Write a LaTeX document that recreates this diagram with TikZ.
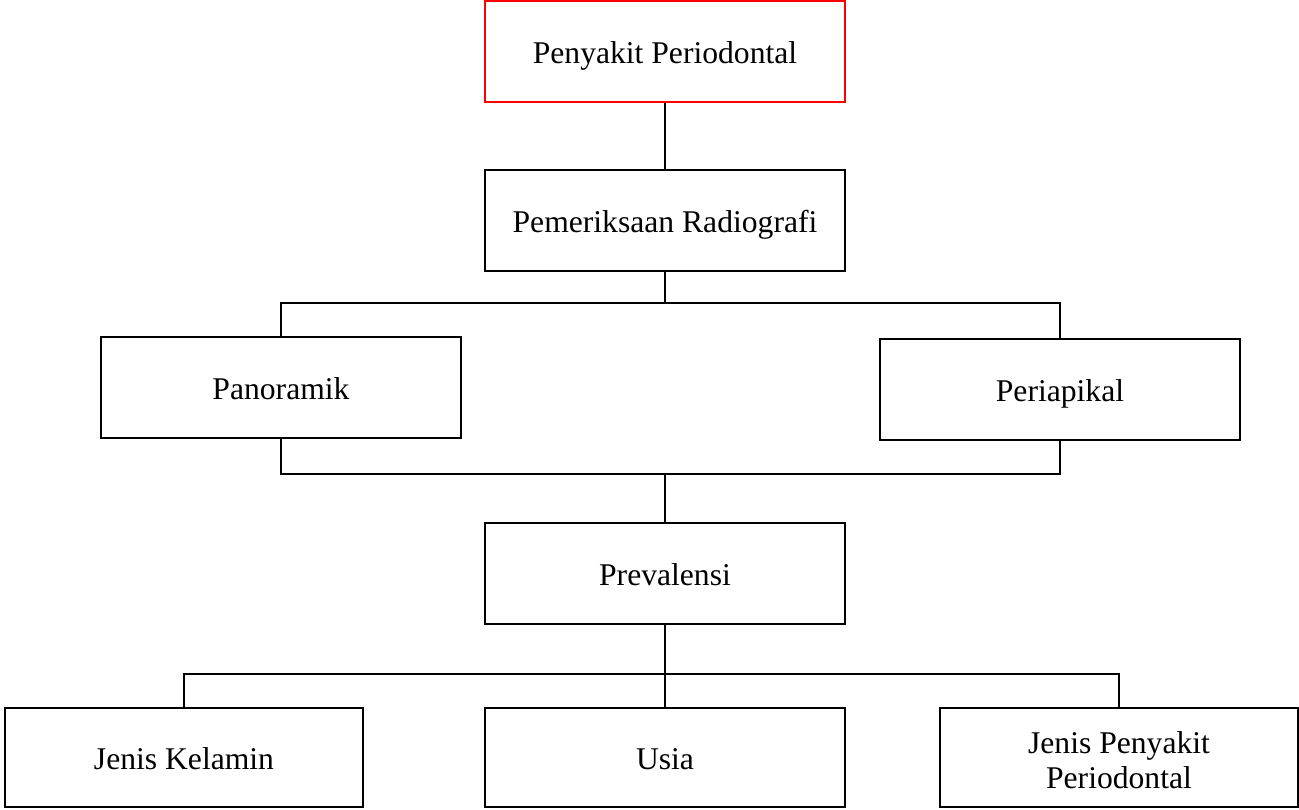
\documentclass[tikz,border=0pt]{standalone}
\usepackage{fontspec}
\setmainfont{Liberation Serif}
\usepackage{tikz}
\usetikzlibrary{positioning, calc}
\tikzset{box_t/.style={draw, align=center, font=\fontsize{18}{20}\selectfont, minimum width=7.2cm, minimum height=2.02cm, line width=1.1pt, inner sep=0pt, text height=16pt, text depth=2pt},
box_r/.style={box_t, draw=red},
link/.style={line width=1.1pt}}

\begin{document}
\begin{tikzpicture}[x=0.02cm, y=-0.02cm]
  \useasboundingbox (0,0) rectangle (1299,809);
  \node[box_r] (pp) at (665,51.5) {Penyakit Periodontal};
  \node[box_t] (rad) at (665,220.5) {Pemeriksaan Radiografi};
  \node[box_t] (pan) at (281,387.5) {Panoramik};
  \node[box_t] (peri) at (1060,389.5) {Periapikal};
  \node[box_t] (prev) at (665,573.5) {Prevalensi};
  \node[box_t, minimum width=7.16cm, minimum height=1.98cm] (jk) at (184,757.5) {Jenis Kelamin};
  \node[box_t, minimum height=1.98cm] (usia) at (665,757.5) {Usia};
  \node[box_t, minimum width=7.16cm, minimum height=1.98cm, text height=35pt, text depth=0pt] (jpp) at (1119,757.5) {Jenis Penyakit\\ Periodontal};
  % connectors
  \draw[link] (pp) -- (rad);
  \draw[link] (rad.south) -- ++(0,31) coordinate (j1);
  \draw[link] (pan.north) |- (j1) -| (peri.north);
  \draw[link] (pan.south) -- ++(0,35) coordinate (j2) -| (peri.south);
  \draw[link] (prev.north |- j2) -- (prev.north);
  \draw[link] (prev.south) -- ++(0,49) coordinate (j3);
  \draw[link] (jk.north) |- (j3) -| (jpp.north);
  \draw[link] (j3) -- (usia.north);
\end{tikzpicture}
\end{document}
